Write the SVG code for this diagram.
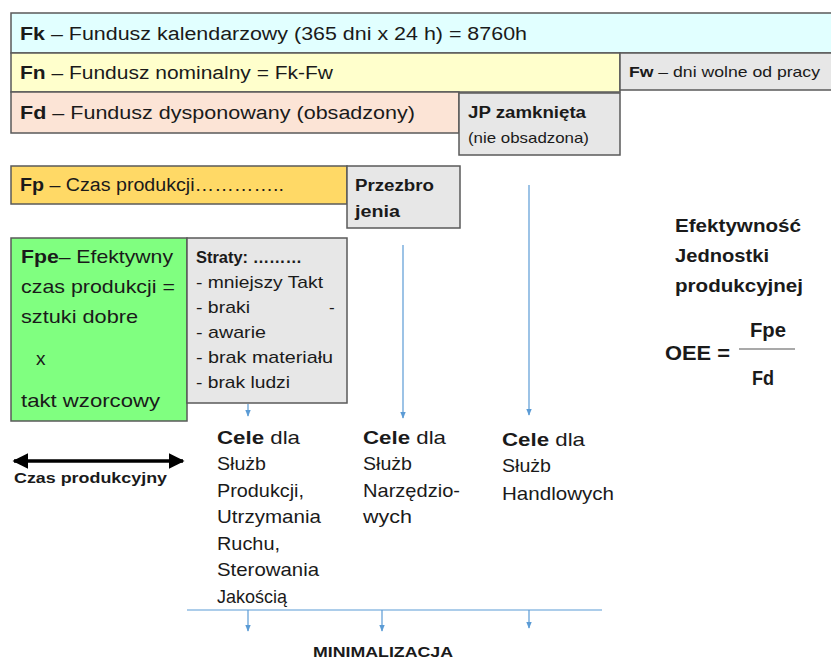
<svg xmlns="http://www.w3.org/2000/svg" width="831" height="660" viewBox="0 0 831 660">
  <style>
    text { font-family: "Liberation Sans", Arial, sans-serif; fill: #1a1a1a; }
    .box { stroke: #5a5a5a; stroke-width: 1.5; }
    .b { font-weight: bold; }
    .f19 { font-size: 19px; }
    .f18 { font-size: 18px; }
    .f17 { font-size: 17px; }
    .f16 { font-size: 16px; }
    .f15 { font-size: 15px; }
    .flow { stroke: #5b9bd5; stroke-width: 1.2; fill: none; }
  </style>
  <defs>
    <marker id="blueHead" viewBox="0 0 10 10" refX="9" refY="5" markerWidth="6" markerHeight="6" orient="auto">
      <path d="M0,1 L10,5 L0,9 Z" fill="#5b9bd5"/>
    </marker>
    <marker id="blackHead" viewBox="0 0 10 10" refX="9" refY="5" markerWidth="4.5" markerHeight="4.5" orient="auto-start-reverse">
      <path d="M0,0 L10,5 L0,10 Z" fill="#000"/>
    </marker>
  </defs>
  <rect width="831" height="660" fill="#fff"/>

  <!-- calendar fund -->
  <g id="fk">
    <rect class="box" x="11" y="13" width="830" height="40" fill="#e1ffff"/>
    <text class="f18" x="20" y="40" textLength="507" lengthAdjust="spacingAndGlyphs"><tspan class="b">Fk</tspan> – Fundusz kalendarzowy (365 dni x 24 h) = 8760h</text>
  </g>

  <!-- nominal fund -->
  <g id="fn">
    <rect class="box" x="11" y="53" width="609" height="39" fill="#ffffcc"/>
    <text class="f18" x="20" y="79" textLength="313" lengthAdjust="spacingAndGlyphs"><tspan class="b">Fn</tspan> – Fundusz nominalny = Fk-Fw</text>
  </g>
  <g id="fw">
    <rect class="box" x="620" y="53" width="221" height="37" fill="#e7e7e7"/>
    <text class="f15" x="629" y="77" textLength="191" lengthAdjust="spacingAndGlyphs"><tspan class="b">Fw</tspan> – dni wolne od pracy</text>
  </g>

  <!-- available fund -->
  <g id="fd">
    <rect class="box" x="11" y="92" width="448" height="41" fill="#fce4d6"/>
    <text class="f18" x="20" y="119" textLength="395" lengthAdjust="spacingAndGlyphs"><tspan class="b">Fd</tspan> – Fundusz dysponowany  (obsadzony)</text>
  </g>
  <g id="jp">
    <rect class="box" x="459" y="93" width="161" height="62" fill="#e7e7e7"/>
    <text class="f16 b" x="468" y="118" textLength="118" lengthAdjust="spacingAndGlyphs">JP zamknięta</text>
    <text class="f15" x="468" y="143" textLength="121" lengthAdjust="spacingAndGlyphs">(nie obsadzona)</text>
  </g>

  <!-- production time -->
  <g id="fp">
    <rect class="box" x="11" y="166" width="336" height="38" fill="#ffd966"/>
    <text class="f18" x="20" y="191" textLength="264" lengthAdjust="spacingAndGlyphs"><tspan class="b">Fp</tspan> – Czas produkcji…………..</text>
  </g>
  <g id="przezbrojenia">
    <rect class="box" x="347" y="166" width="113" height="62" fill="#e7e7e7"/>
    <text class="f16 b" x="355" y="191" textLength="79" lengthAdjust="spacingAndGlyphs">Przezbro</text>
    <text class="f16 b" x="355" y="217" textLength="45" lengthAdjust="spacingAndGlyphs">jenia</text>
  </g>

  <!-- effective production time -->
  <g id="fpe">
    <rect class="box" x="11" y="238" width="176" height="183" fill="#80ff80"/>
    <text class="f19" x="21" y="263" textLength="152" lengthAdjust="spacingAndGlyphs"><tspan class="b">Fpe</tspan>– Efektywny</text>
    <text class="f19" x="21" y="293" textLength="154" lengthAdjust="spacingAndGlyphs">czas produkcji =</text>
    <text class="f19" x="21" y="323" textLength="117" lengthAdjust="spacingAndGlyphs">sztuki dobre</text>
    <text class="f19" x="36" y="365">x</text>
    <text class="f19" x="21" y="407" textLength="139" lengthAdjust="spacingAndGlyphs">takt wzorcowy</text>
  </g>
  <g id="straty">
    <rect class="box" x="187" y="238" width="160" height="165" fill="#e7e7e7"/>
    <text class="f16 b" x="196" y="263" textLength="106" lengthAdjust="spacingAndGlyphs">Straty: ………</text>
    <text class="f17" x="196" y="288" textLength="127" lengthAdjust="spacingAndGlyphs">- mniejszy Takt</text>
    <text class="f17" x="196" y="313" textLength="54" lengthAdjust="spacingAndGlyphs">- braki</text>
    <text class="f17" x="329" y="313">-</text>
    <text class="f17" x="196" y="338" textLength="70" lengthAdjust="spacingAndGlyphs">- awarie</text>
    <text class="f17" x="196" y="363" textLength="137" lengthAdjust="spacingAndGlyphs">- brak materiału</text>
    <text class="f17" x="196" y="388" textLength="94" lengthAdjust="spacingAndGlyphs">- brak ludzi</text>
  </g>

  <!-- flow connectors -->
  <g id="connectors">
    <line class="flow" x1="248" y1="404" x2="248" y2="416" marker-end="url(#blueHead)"/>
    <line class="flow" x1="403" y1="245" x2="403" y2="418" marker-end="url(#blueHead)"/>
    <line class="flow" x1="529" y1="185" x2="529" y2="415" marker-end="url(#blueHead)"/>
    <line class="flow" x1="187" y1="610" x2="602" y2="610"/>
    <line class="flow" x1="248" y1="610" x2="248" y2="631" marker-end="url(#blueHead)"/>
    <line class="flow" x1="382" y1="610" x2="382" y2="631" marker-end="url(#blueHead)"/>
    <line class="flow" x1="529" y1="610" x2="529" y2="628" marker-end="url(#blueHead)"/>
    <line x1="14" y1="461" x2="183" y2="461" stroke="#000" stroke-width="3.5" marker-start="url(#blackHead)" marker-end="url(#blackHead)"/>
  </g>

  <g id="czas-produkcyjny">
    <text class="f15 b" x="14" y="483" textLength="153" lengthAdjust="spacingAndGlyphs">Czas produkcyjny</text>
  </g>

  <!-- target groups -->
  <g id="cele-produkcji" class="f19">
    <text x="217" y="444" textLength="83" lengthAdjust="spacingAndGlyphs"><tspan class="b">Cele</tspan> dla</text>
    <text x="217" y="470" textLength="49" lengthAdjust="spacingAndGlyphs">Służb</text>
    <text x="217" y="497" textLength="87" lengthAdjust="spacingAndGlyphs">Produkcji,</text>
    <text x="217" y="523" textLength="104" lengthAdjust="spacingAndGlyphs">Utrzymania</text>
    <text x="217" y="550" textLength="63" lengthAdjust="spacingAndGlyphs">Ruchu,</text>
    <text x="217" y="576" textLength="102" lengthAdjust="spacingAndGlyphs">Sterowania</text>
    <text x="217" y="603" textLength="70" lengthAdjust="spacingAndGlyphs">Jakością</text>
  </g>
  <g id="cele-narzedziowych" class="f19">
    <text x="363" y="444" textLength="83" lengthAdjust="spacingAndGlyphs"><tspan class="b">Cele</tspan> dla</text>
    <text x="363" y="470" textLength="49" lengthAdjust="spacingAndGlyphs">Służb</text>
    <text x="363" y="497" textLength="97" lengthAdjust="spacingAndGlyphs">Narzędzio-</text>
    <text x="363" y="523" textLength="49" lengthAdjust="spacingAndGlyphs">wych</text>
  </g>
  <g id="cele-handlowych" class="f19">
    <text x="502" y="446" textLength="83" lengthAdjust="spacingAndGlyphs"><tspan class="b">Cele</tspan> dla</text>
    <text x="502" y="472" textLength="49" lengthAdjust="spacingAndGlyphs">Służb</text>
    <text x="502" y="500" textLength="112" lengthAdjust="spacingAndGlyphs">Handlowych</text>
  </g>

  <g id="minimalizacja">
    <text class="f15 b" x="313" y="657" textLength="140" lengthAdjust="spacingAndGlyphs">MINIMALIZACJA</text>
  </g>

  <!-- OEE formula -->
  <g id="oee">
    <text class="f18 b" x="675" y="232" textLength="126" lengthAdjust="spacingAndGlyphs">Efektywność</text>
    <text class="f18 b" x="675" y="262" textLength="94" lengthAdjust="spacingAndGlyphs">Jednostki</text>
    <text class="f18 b" x="675" y="292" textLength="128" lengthAdjust="spacingAndGlyphs">produkcyjnej</text>
    <text class="b" font-size="21" x="665" y="360" textLength="65" lengthAdjust="spacingAndGlyphs">OEE =</text>
    <line x1="739" y1="349" x2="795" y2="349" stroke="#555" stroke-width="1.2"/>
    <text class="b" font-size="21" x="750" y="337" textLength="36" lengthAdjust="spacingAndGlyphs">Fpe</text>
    <text class="b" font-size="21" x="752" y="385" textLength="22" lengthAdjust="spacingAndGlyphs">Fd</text>
  </g>
</svg>
